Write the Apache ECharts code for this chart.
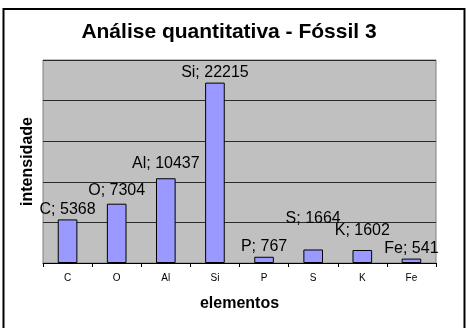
<!DOCTYPE html>
<html>
<head>
<meta charset="utf-8">
<script src="https://cdn.jsdelivr.net/npm/echarts@6/dist/echarts.min.js"></script>
<style>
  html, body { margin: 0; padding: 0; background: #fff; }
  #chart { width: 466px; height: 328px; }
</style>
</head>
<body>
<div id="chart"></div>
<script>
// Elementos analisados e respectivas intensidades
const elementos = ['C', 'O', 'Al', 'Si', 'P', 'S', 'K', 'Fe'];
const intensidades = [5368, 7304, 10437, 22215, 767, 1664, 1602, 541];

const yMin = 0;
const yMax = 25000;
const yStep = 5000;

const fonte = '"Liberation Sans", Arial, sans-serif';

// Deslocamento vertical extra dos rótulos para não se sobreporem
const ajusteRotulo = { O: -3, Al: -5, S: -21, K: -9 };

const chart = echarts.init(document.getElementById('chart'), null, { renderer: 'canvas' });

chart.setOption({
  animation: false,
  backgroundColor: '#ffffff',
  title: {
    text: 'Análise quantitativa - Fóssil 3',
    left: 224,
    textAlign: 'center',
    top: 17,
    textStyle: { fontFamily: fonte, fontSize: 21, fontWeight: 'bold', color: '#000' }
  },
  graphic: [{
    type: 'rect',
    shape: { x: 3.5, y: 9, width: 461, height: 330 },
    style: { fill: 'none', stroke: '#000', lineWidth: 2 },
    silent: true,
    z: 100
  }],
  grid: {
    left: 43,
    right: 30,
    top: 60,
    bottom: 65,
    show: true,
    backgroundColor: '#C0C0C0',
    borderColor: '#808080',
    borderWidth: 1
  },
  xAxis: {
    type: 'category',
    data: elementos,
    name: 'elementos',
    nameLocation: 'middle',
    nameGap: 33,
    nameTextStyle: { fontFamily: fonte, fontSize: 16, fontWeight: 'bold', color: '#000' },
    axisLine: { show: true, lineStyle: { color: '#000', width: 1 } },
    axisTick: { show: true, alignWithLabel: false, length: 4, lineStyle: { color: '#000' } },
    axisLabel: { fontFamily: fonte, fontSize: 10, color: '#000', margin: 10 },
    splitLine: { show: false }
  },
  yAxis: {
    type: 'value',
    min: yMin,
    max: yMax,
    interval: yStep,
    name: 'intensidade',
    nameLocation: 'middle',
    nameGap: 7,
    nameRotate: 90,
    nameTextStyle: { fontFamily: fonte, fontSize: 16, fontWeight: 'bold', color: '#000' },
    axisLine: { show: false },
    axisTick: { show: false },
    axisLabel: { show: false },
    splitLine: { show: true, lineStyle: { color: '#2a2a2a', width: 1 } }
  },
  series: [{
    type: 'bar',
    data: intensidades.map((v, i) => ({
      value: v,
      label: { offset: [0, ajusteRotulo[elementos[i]] || 0] }
    })),
    barWidth: '40%',
    itemStyle: { color: '#9999FF', borderColor: '#000', borderWidth: 1 },
    label: {
      show: true,
      position: 'top',
      distance: 2,
      formatter: p => p.name + '; ' + p.value,
      fontFamily: fonte,
      fontSize: 16,
      color: '#000'
    }
  }]
});
</script>
</body>
</html>
